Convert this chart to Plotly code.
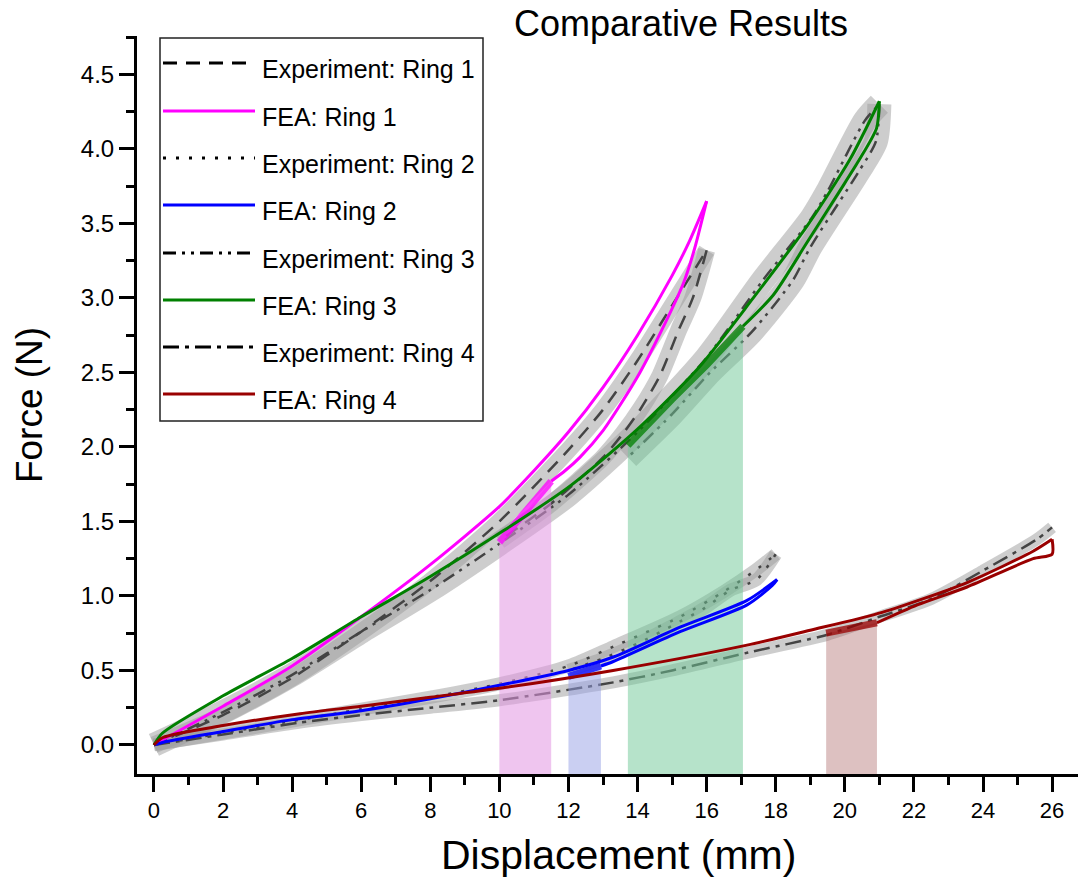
import plotly.graph_objects as go

# ---------------- data ----------------
# Ring 1
fea1_load_x = [0, 0.3, 2, 4, 6, 8, 10, 11, 12, 13, 14, 15, 15.5, 16]
fea1_load_y = [0, 0.04, 0.26, 0.53, 0.86, 1.21, 1.6, 1.84, 2.1, 2.4, 2.75, 3.15, 3.38, 3.65]
fea1_unload_x = [16.0, 15.65, 15.33, 14.65, 14.07, 13.49, 13.0, 12.33, 11.9, 11.5]
fea1_unload_y = [3.65, 3.33, 3.10, 2.76, 2.50, 2.28, 2.11, 1.93, 1.84, 1.77]
fea1_hold_x = [11.5, 10.75, 10.0]
fea1_hold_y = [1.77, 1.56, 1.36]
exp1_load_x = [0, 2, 4, 6, 8, 10, 12, 13, 14, 15, 16]
exp1_load_y = [0, 0.2, 0.45, 0.76, 1.1, 1.5, 1.98, 2.25, 2.58, 2.95, 3.32]
exp1_unload_x = [16, 15.6, 15.2, 14.65, 14.1, 13.58, 13, 12.3, 11.5, 10.8, 10.0]
exp1_unload_y = [3.32, 3.0, 2.79, 2.48, 2.26, 2.09, 1.93, 1.78, 1.62, 1.5, 1.37]

# Ring 2
fea2_load_x = [0, 0.3, 2, 4, 6, 8, 10, 12, 13.3, 15.23, 17.17, 18.04]
fea2_load_y = [0, 0.02, 0.09, 0.17, 0.23, 0.31, 0.40, 0.50, 0.59, 0.79, 0.97, 1.11]
fea2_unload_x = [18.04, 17.9, 17.17, 15.23, 13.3, 12.94]
fea2_unload_y = [1.11, 1.07, 0.94, 0.76, 0.56, 0.53]
fea2_hold_x = [12.94, 12.5, 12.0]
fea2_hold_y = [0.53, 0.50, 0.46]
exp2_load_x = [0, 2, 4, 6, 8, 10, 12, 13.3, 15.23, 16.5, 17.4, 18.0]
exp2_load_y = [0, 0.08, 0.16, 0.24, 0.32, 0.41, 0.53, 0.66, 0.86, 1.03, 1.17, 1.28]
exp2_unload_x = [18.0, 17.45, 16.7, 15.95, 15.0, 14.0, 13.0, 12.0]
exp2_unload_y = [1.28, 1.11, 1.04, 0.92, 0.80, 0.68, 0.58, 0.50]

# Ring 3
fea3_load_x = [0, 0.25, 2, 4, 6, 8, 10, 12, 14, 15.8, 17.35, 18.9, 20.15, 21.0]
fea3_load_y = [0, 0.08, 0.33, 0.58, 0.86, 1.13, 1.42, 1.73, 2.12, 2.54, 3.0, 3.48, 3.93, 4.32]
fea3_unload_x = [21.0, 20.92, 20.4, 19.86, 18.9, 17.93, 17.05]
fea3_unload_y = [4.32, 4.14, 3.92, 3.72, 3.37, 3.02, 2.81]
fea3_hold_x = [17.05, 16.0, 15.0, 13.72]
fea3_hold_y = [2.81, 2.55, 2.32, 2.01]
exp3_load_x = [0, 2, 4, 6, 8, 10, 12, 14, 16, 17.63, 19.05, 19.51, 20.58, 21.0]
exp3_load_y = [0, 0.22, 0.47, 0.76, 1.04, 1.35, 1.68, 2.1, 2.6, 3.12, 3.54, 3.72, 4.19, 4.3]
exp3_unload_x = [21.0, 20.9, 20.38, 19.0, 18.5, 17.3, 16.1, 15.0, 13.72]
exp3_unload_y = [4.3, 4.05, 3.84, 3.34, 3.12, 2.77, 2.5, 2.22, 1.93]

# Ring 4
fea4_load_x = [0, 0.26, 2, 4.23, 6, 8, 10, 13.29, 17.17, 19.0, 21.08, 23.54, 25.45, 26.0]
fea4_load_y = [0, 0.05, 0.13, 0.21, 0.26, 0.32, 0.38, 0.50, 0.67, 0.77, 0.89, 1.09, 1.30, 1.38]
fea4_unload_x = [26.0, 26.0, 25.45, 23.54, 22.1, 20.93]
fea4_unload_y = [1.38, 1.28, 1.25, 1.06, 0.94, 0.82]
fea4_hold_x = [20.93, 20.2, 19.46]
fea4_hold_y = [0.82, 0.78, 0.75]
exp4_x = [0, 2, 4.23, 6, 8, 10, 13.3, 15, 17.2, 19.5, 21, 22.5, 24, 25.56, 26.0]
exp4_y = [0, 0.07, 0.15, 0.2, 0.25, 0.30, 0.42, 0.50, 0.62, 0.74, 0.86, 0.98, 1.17, 1.38, 1.46]

x_ticks = list(range(0, 27, 2))
y_ticks = [0.0, 0.5, 1.0, 1.5, 2.0, 2.5, 3.0, 3.5, 4.0, 4.5]
x_range = [-0.49, 26.75]
y_range = [-0.195, 4.758]

# ---------------- styles ----------------
FONT = "Liberation Sans, Arial, sans-serif"
rings = [
    dict(name="Ring 1", color="#FF00FF", shade="rgba(225,150,225,0.55)", dash="14px,9px", band=17,
         fl=(fea1_load_x, fea1_load_y), fu=(fea1_unload_x, fea1_unload_y), fh=(fea1_hold_x, fea1_hold_y),
         exps=[(exp1_load_x, exp1_load_y), (exp1_unload_x, exp1_unload_y)]),
    dict(name="Ring 2", color="#0000FF", shade="rgba(150,160,230,0.5)", dash="3px,10px", band=13,
         fl=(fea2_load_x, fea2_load_y), fu=(fea2_unload_x, fea2_unload_y), fh=(fea2_hold_x, fea2_hold_y),
         exps=[(exp2_load_x, exp2_load_y), (exp2_unload_x, exp2_unload_y)]),
    dict(name="Ring 3", color="#008000", shade="rgba(110,200,150,0.5)", dash="13px,6px,3px,6px,3px,6px", band=24,
         fl=(fea3_load_x, fea3_load_y), fu=(fea3_unload_x, fea3_unload_y), fh=(fea3_hold_x, fea3_hold_y),
         exps=[(exp3_load_x, exp3_load_y), (exp3_unload_x, exp3_unload_y)]),
    dict(name="Ring 4", color="#990000", shade="rgba(170,100,100,0.4)", dash="16px,6px,4px,6px", band=12,
         fl=(fea4_load_x, fea4_load_y), fu=(fea4_unload_x, fea4_unload_y), fh=(fea4_hold_x, fea4_hold_y),
         exps=[(exp4_x, exp4_y)]),
]
SMOOTH = dict(shape="spline", smoothing=0.7)

fig = go.Figure()

# gray experimental scatter bands
for r in rings:
    for ex, ey in r["exps"]:
        fig.add_trace(go.Scatter(x=ex, y=ey, mode="lines", showlegend=False, hoverinfo="skip",
                                 line=dict(color="rgba(155,155,155,0.5)", width=r["band"], **SMOOTH)))
# experimental mean lines
for r in rings:
    for ex, ey in r["exps"]:
        fig.add_trace(go.Scatter(x=ex, y=ey, mode="lines", showlegend=False,
                                 line=dict(color="#444444", width=2.5, dash=r["dash"], **SMOOTH)))
# shaded regions under the hold segments
for r in rings:
    hx, hy = r["fh"]
    fig.add_trace(go.Scatter(x=list(hx) + [hx[-1], hx[0]], y=list(hy) + [y_range[0], y_range[0]],
                             mode="lines", fill="toself", fillcolor=r["shade"], line=dict(width=0),
                             showlegend=False, hoverinfo="skip"))
# FEA loops: loading and unloading branches drawn separately so the tip stays sharp
for r in rings:
    for bx, by in (r["fl"], r["fu"]):
        fig.add_trace(go.Scatter(x=bx, y=by, mode="lines", showlegend=False,
                                 line=dict(color=r["color"], width=3, **SMOOTH)))
    hx, hy = r["fh"]
    fig.add_trace(go.Scatter(x=hx, y=hy, mode="lines", showlegend=False, opacity=0.75,
                             line=dict(color=r["color"], width=7)))

# ---------------- manual legend (Origin style) ----------------
PL, PR, PT, PB = 137, 1078, 36, 774
def px(xp):
    return (xp - PL) / (PR - PL)
def py(yp):
    return (PB - yp) / (PB - PT)

shapes = [dict(type="rect", xref="paper", yref="paper", x0=px(160), x1=px(483), y0=py(421), y1=py(38),
               line=dict(color="#222", width=1.5), fillcolor="rgba(0,0,0,0)")]
annotations = []
entry_rows = [63, 111, 158, 205, 253, 300, 347, 394]
entries = []
for r in rings:
    entries.append(("Experiment: " + r["name"], "black", r["dash"]))
    entries.append(("FEA: " + r["name"], r["color"], "solid"))
for (label, col, dsh), yy in zip(entries, entry_rows):
    shapes.append(dict(type="line", xref="paper", yref="paper", x0=px(163), x1=px(255), y0=py(yy), y1=py(yy),
                       line=dict(color=col, width=3, dash=dsh)))
    annotations.append(dict(xref="paper", yref="paper", x=px(260), y=py(yy + 6), text=label, showarrow=False,
                            xanchor="left", yanchor="middle", font=dict(family=FONT, size=25, color="black")))
# x-axis title (Origin places it slightly right of the plot centre)
annotations.append(dict(xref="paper", yref="paper", x=px(618), y=py(855), text="Displacement (mm)",
                        showarrow=False, xanchor="center", yanchor="middle",
                        font=dict(family=FONT, size=41, color="black")))

fig.update_layout(
    width=1092, height=883,
    margin=dict(l=PL, r=1092 - PR, t=PT, b=883 - PB),
    paper_bgcolor="white", plot_bgcolor="white",
    font=dict(family=FONT, color="black"),
    showlegend=False,
    title=dict(text="Comparative Results", x=681 / 1092, xanchor="center", y=1 - 23 / 883, yanchor="middle",
               xref="container", yref="container", font=dict(family=FONT, size=36, color="black")),
    shapes=shapes, annotations=annotations,
    xaxis=dict(range=x_range, tickvals=x_ticks, showgrid=False, zeroline=False, showline=True,
               linecolor="black", linewidth=3, ticks="outside", ticklen=15, tickwidth=3, tickcolor="black",
               tickfont=dict(family=FONT, size=22, color="black"),
               minor=dict(dtick=1, tick0=0, ticks="outside", ticklen=8, tickwidth=3, tickcolor="black", showgrid=False)),
    yaxis=dict(range=y_range, tickvals=y_ticks, ticktext=[f"{v:.1f}" for v in y_ticks], showgrid=False,
               zeroline=False, showline=True, linecolor="black", linewidth=3, ticks="outside", ticklen=15,
               tickwidth=3, tickcolor="black", tickfont=dict(family=FONT, size=24, color="black"),
               minor=dict(dtick=0.25, tick0=0, ticks="outside", ticklen=8, tickwidth=3, tickcolor="black", showgrid=False),
               title=dict(text="Force (N)", font=dict(family=FONT, size=37, color="black"), standoff=27)),
)

fig.write_html("out.html")
